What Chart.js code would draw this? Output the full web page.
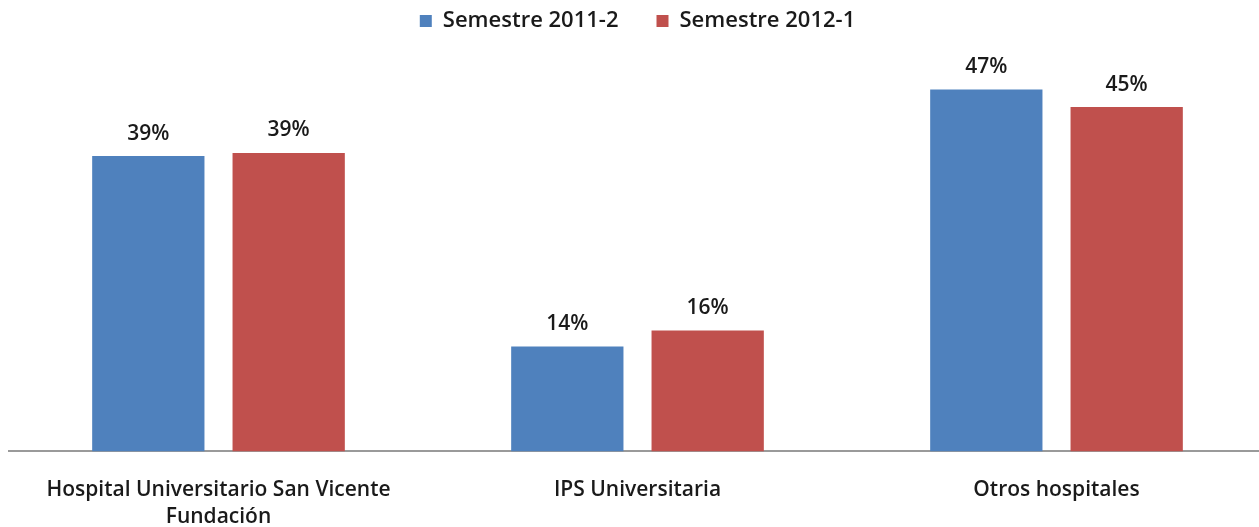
<!DOCTYPE html>
<html>
<head>
<meta charset="utf-8">
<script src="https://cdn.jsdelivr.net/npm/chart.js@4"></script>
<style>
  html, body { margin: 0; padding: 0; background: #fff; overflow: hidden; }
  #wrap { width: 1266px; height: 527px; }
</style>
</head>
<body>
<div id="wrap"><canvas id="chart"></canvas></div>
<script>
// Categories and series values (percent)
const categories = [
    ['Hospital Universitario San Vicente', 'Fundación'],
    'IPS Universitaria',
    'Otros hospitales'
];
const semestre2011_2 = [38.6, 13.7, 47.3];
const semestre2012_1 = [39.0, 15.8, 45.0];
const seriesNames = ['Semestre 2011-2', 'Semestre 2012-1'];

const textFont = 'Open Sans';
const textColor = '#1a1a1a';

// Draw the percentage above each bar
const barLabels = {
    id: 'barLabels',
    afterDatasetsDraw(chart) {
        const ctx = chart.ctx;
        ctx.save();
        ctx.font = '600 21px "' + textFont + '"';
        ctx.fillStyle = textColor;
        ctx.textAlign = 'center';
        ctx.textBaseline = 'bottom';
        chart.data.datasets.forEach(function(ds, i) {
            chart.getDatasetMeta(i).data.forEach(function(bar, j) {
                ctx.fillText(Math.round(ds.data[j]) + '%', bar.x, bar.y - 12);
            });
        });
        ctx.restore();
    }
};

const ctx = document.getElementById('chart').getContext('2d');
new Chart(ctx, {
    type: 'bar',
    data: {
        labels: categories,
        datasets: [{
            label: seriesNames[0],
            data: semestre2011_2,
            backgroundColor: '#4F81BD',
            borderWidth: 0
        }, {
            label: seriesNames[1],
            data: semestre2012_1,
            backgroundColor: '#C0504D',
            borderWidth: 0
        }]
    },
    options: {
        responsive: true,
        maintainAspectRatio: false,
        animation: false,
        layout: {
            padding: { left: 9, right: 0, top: -28, bottom: -29 }
        },
        datasets: {
            bar: {
                categoryPercentage: 0.67,
                barPercentage: 0.8
            }
        },
        plugins: {
            legend: {
                position: 'top',
                labels: {
                    font: { family: textFont, size: 22, weight: '600' },
                    color: textColor,
                    boxWidth: 12,
                    boxHeight: 12,
                    padding: 38
                }
            },
            tooltip: { enabled: false }
        },
        scales: {
            x: {
                grid: { display: false, drawTicks: false },
                border: { color: '#9a9a9a', width: 2 },
                ticks: {
                    font: { family: textFont, size: 21, weight: '600', lineHeight: 1.3 },
                    color: textColor,
                    padding: 25,
                    maxRotation: 0,
                    autoSkip: false
                }
            },
            y: {
                display: false,
                min: 0,
                max: 53.5
            }
        }
    },
    plugins: [barLabels]
});
</script>
</body>
</html>
